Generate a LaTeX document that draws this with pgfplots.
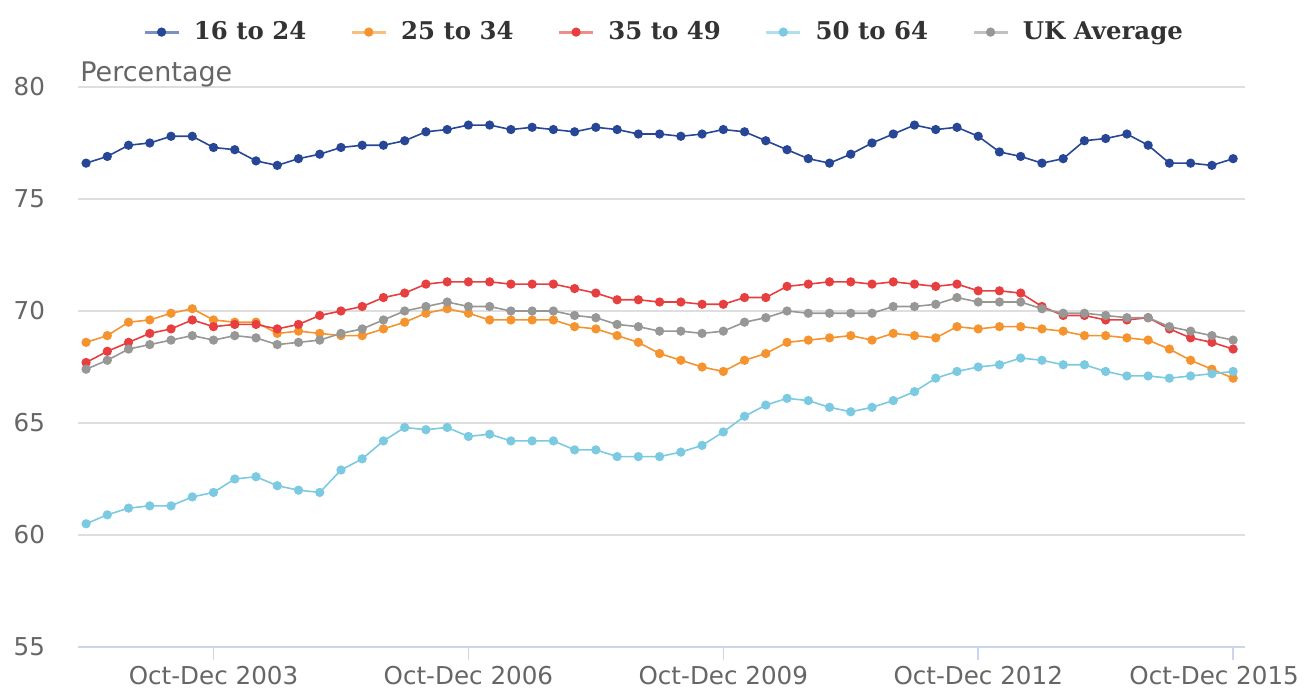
\documentclass[border=0pt]{standalone}
\usepackage{fontspec}
\setmainfont{DejaVu Sans}
\newfontfamily\legendfont{DejaVu Serif}
\usepackage{pgfplots}
\usepackage{pgfplotstable}
\pgfplotsset{compat=1.18}

\definecolor{cBlue}{HTML}{274796}
\definecolor{cOrange}{HTML}{F5942F}
\definecolor{cRed}{HTML}{E73F40}
\definecolor{cLight}{HTML}{7BCAE2}
\definecolor{cGrey}{HTML}{979796}
\definecolor{gridgrey}{HTML}{DEDEDE}
\definecolor{axisblue}{HTML}{CCD6EB}
\definecolor{labelgrey}{HTML}{666666}
\definecolor{legendtext}{HTML}{333333}

% Employment rate by age group, quarterly, Apr-Jun 2002 (0) to Oct-Dec 2015 (54)
\pgfplotstableread{
i  a     b     c     d     e
0  76.6  68.6  67.7  60.5  67.4
1  76.9  68.9  68.2  60.9  67.8
2  77.4  69.5  68.6  61.2  68.3
3  77.5  69.6  69.0  61.3  68.5
4  77.8  69.9  69.2  61.3  68.7
5  77.8  70.1  69.6  61.7  68.9
6  77.3  69.6  69.3  61.9  68.7
7  77.2  69.5  69.4  62.5  68.9
8  76.7  69.5  69.4  62.6  68.8
9  76.5  69.0  69.2  62.2  68.5
10 76.8  69.1  69.4  62.0  68.6
11 77.0  69.0  69.8  61.9  68.7
12 77.3  68.9  70.0  62.9  69.0
13 77.4  68.9  70.2  63.4  69.2
14 77.4  69.2  70.6  64.2  69.6
15 77.6  69.5  70.8  64.8  70.0
16 78.0  69.9  71.2  64.7  70.2
17 78.1  70.1  71.3  64.8  70.4
18 78.3  69.9  71.3  64.4  70.2
19 78.3  69.6  71.3  64.5  70.2
20 78.1  69.6  71.2  64.2  70.0
21 78.2  69.6  71.2  64.2  70.0
22 78.1  69.6  71.2  64.2  70.0
23 78.0  69.3  71.0  63.8  69.8
24 78.2  69.2  70.8  63.8  69.7
25 78.1  68.9  70.5  63.5  69.4
26 77.9  68.6  70.5  63.5  69.3
27 77.9  68.1  70.4  63.5  69.1
28 77.8  67.8  70.4  63.7  69.1
29 77.9  67.5  70.3  64.0  69.0
30 78.1  67.3  70.3  64.6  69.1
31 78.0  67.8  70.6  65.3  69.5
32 77.6  68.1  70.6  65.8  69.7
33 77.2  68.6  71.1  66.1  70.0
34 76.8  68.7  71.2  66.0  69.9
35 76.6  68.8  71.3  65.7  69.9
36 77.0  68.9  71.3  65.5  69.9
37 77.5  68.7  71.2  65.7  69.9
38 77.9  69.0  71.3  66.0  70.2
39 78.3  68.9  71.2  66.4  70.2
40 78.1  68.8  71.1  67.0  70.3
41 78.2  69.3  71.2  67.3  70.6
42 77.8  69.2  70.9  67.5  70.4
43 77.1  69.3  70.9  67.6  70.4
44 76.9  69.3  70.8  67.9  70.4
45 76.6  69.2  70.2  67.8  70.1
46 76.8  69.1  69.8  67.6  69.9
47 77.6  68.9  69.8  67.6  69.9
48 77.7  68.9  69.6  67.3  69.8
49 77.9  68.8  69.6  67.1  69.7
50 77.4  68.7  69.7  67.1  69.7
51 76.6  68.3  69.2  67.0  69.3
52 76.6  67.8  68.8  67.1  69.1
53 76.5  67.4  68.6  67.2  68.9
54 76.8  67.0  68.3  67.3  68.7
}\rates

\begin{document}
\begin{tikzpicture}
\path[use as bounding box] (-39pt,-20.5pt) rectangle (613.5pt,323.5pt);
\begin{axis}[
  at={(0,0)}, anchor=south west,
  scale only axis,
  width=583.5pt, height=280pt,
  xmin=-0.38, xmax=54.56,
  ymin=55, ymax=80,
  ytick={55,60,65,70,75,80},
  xtick={6,18,30,42},
  xticklabels={Oct-Dec 2003,Oct-Dec 2006,Oct-Dec 2009,Oct-Dec 2012},
  extra x ticks={54},
  extra x tick labels={Oct-Dec 2015},
  extra x tick style={xticklabel style={xshift=-9.5pt}},
  axis lines*=left,
  x axis line style={draw=axisblue, line width=0.8pt, -},
  y axis line style={draw=none},
  ymajorgrids,
  grid style={draw=gridgrey, line width=0.8pt},
  tick align=outside,
  xtick style={draw=axisblue, line width=0.8pt},
  ytick style={draw=none},
  major tick length=6.5pt,
  tick label style={font=\fontsize{12.3}{14}\selectfont, text=labelgrey},
  /pgf/number format/assume math mode=true,
  yticklabel style={xshift=-6.5pt},
  xticklabel style={yshift=0.5pt},
  clip=false,
  legend style={
    at={(0.503,1.098)}, anchor=center,
    draw=none, fill=none,
    font=\legendfont\bfseries\fontsize{12.2}{14}\selectfont,
    text=legendtext,
    /tikz/every odd column/.append style={column sep=5pt},
    /tikz/every even column/.append style={column sep=20pt},
    legend cell align=left,
  },
  legend columns=5,
  legend image code/.code={
    \draw[#1, line width=1.4pt, opacity=0.6] (0pt,0pt) -- (17pt,0pt);
    \fill[#1] (8.5pt,0pt) circle (1.9pt);
  },
  every axis plot/.append style={line width=0.8pt, mark=*, mark size=1.9pt},
]
\addplot[cBlue, mark options={fill=cBlue, draw=cBlue}] table[x=i, y=a] {\rates};
\addlegendentry{16 to 24}
\addplot[cOrange, mark options={fill=cOrange, draw=cOrange}] table[x=i, y=b] {\rates};
\addlegendentry{25 to 34}
\addplot[cRed, mark options={fill=cRed, draw=cRed}] table[x=i, y=c] {\rates};
\addlegendentry{35 to 49}
\addplot[cLight, mark options={fill=cLight, draw=cLight}] table[x=i, y=d] {\rates};
\addlegendentry{50 to 64}
\addplot[cGrey, mark options={fill=cGrey, draw=cGrey}] table[x=i, y=e] {\rates};
\addlegendentry{UK Average}

\node[anchor=base west, inner sep=0pt, text=labelgrey,
      font=\fontsize{13.5}{15}\selectfont]
  at (rel axis cs:0,1) [xshift=1pt, yshift=2.5pt] {Percentage};
\end{axis}
\end{tikzpicture}
\end{document}
